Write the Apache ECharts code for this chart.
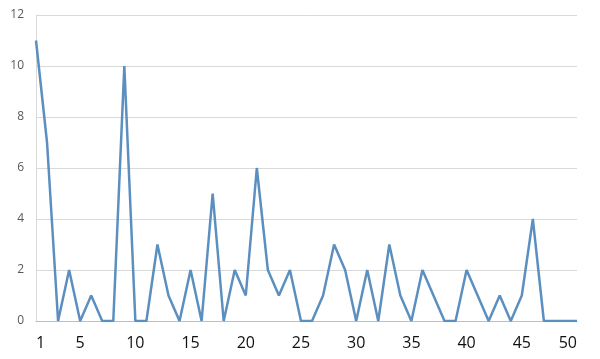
<!DOCTYPE html>
<html>
<head>
<meta charset="utf-8">
<script src="https://cdn.jsdelivr.net/npm/echarts@6/dist/echarts.min.js"></script>
<style>
  html, body { margin: 0; padding: 0; background: #fff; }
  #chart { width: 600px; height: 359px; }
</style>
</head>
<body>
<div id="chart"></div>
<script>
// x categories 1..50
const categories = [];
for (let i = 1; i <= 50; i++) categories.push(String(i));

// values
const values = [
  11, 7, 0, 2, 0, 1, 0, 0, 10, 0,
  0, 3, 1, 0, 2, 0, 5, 0, 2, 1,
  6, 2, 1, 2, 0, 0, 1, 3, 2, 0,
  2, 0, 3, 1, 0, 2, 1, 0, 0, 2,
  1, 0, 1, 0, 1, 4, 0, 0, 0, 0
];

const myChart = echarts.init(document.getElementById('chart'));
const option = {
  animation: false,
  grid: { left: 36, right: 23, top: 15, bottom: 38 },
  xAxis: {
    type: 'category',
    data: categories,
    boundaryGap: false,
    axisLine: { lineStyle: { color: '#bfbfbf', width: 1 } },
    axisTick: { show: false },
    axisLabel: {
      // only 1, 5, 10, ... 50
      interval: (idx, val) => idx === 0 || Number(val) % 5 === 0,
      color: '#111',
      fontSize: 16,
      fontFamily: 'Open Sans',
      margin: 14,
      alignMinLabel: 'left',
      alignMaxLabel: 'right'
    },
    splitLine: { show: false }
  },
  yAxis: {
    type: 'value',
    min: 0,
    max: 12,
    interval: 2,
    axisLine: { show: true, lineStyle: { color: '#d9d9d9' } },
    axisTick: { show: false },
    axisLabel: { color: '#595959', fontSize: 12, fontFamily: 'Open Sans', margin: 12 },
    splitLine: { lineStyle: { color: '#d9d9d9', width: 1 } }
  },
  series: [{
    type: 'line',
    data: values,
    symbol: 'none',
    lineStyle: { color: '#5b8fc0', width: 2.5 }
  }]
};
myChart.setOption(option);
</script>
</body>
</html>
